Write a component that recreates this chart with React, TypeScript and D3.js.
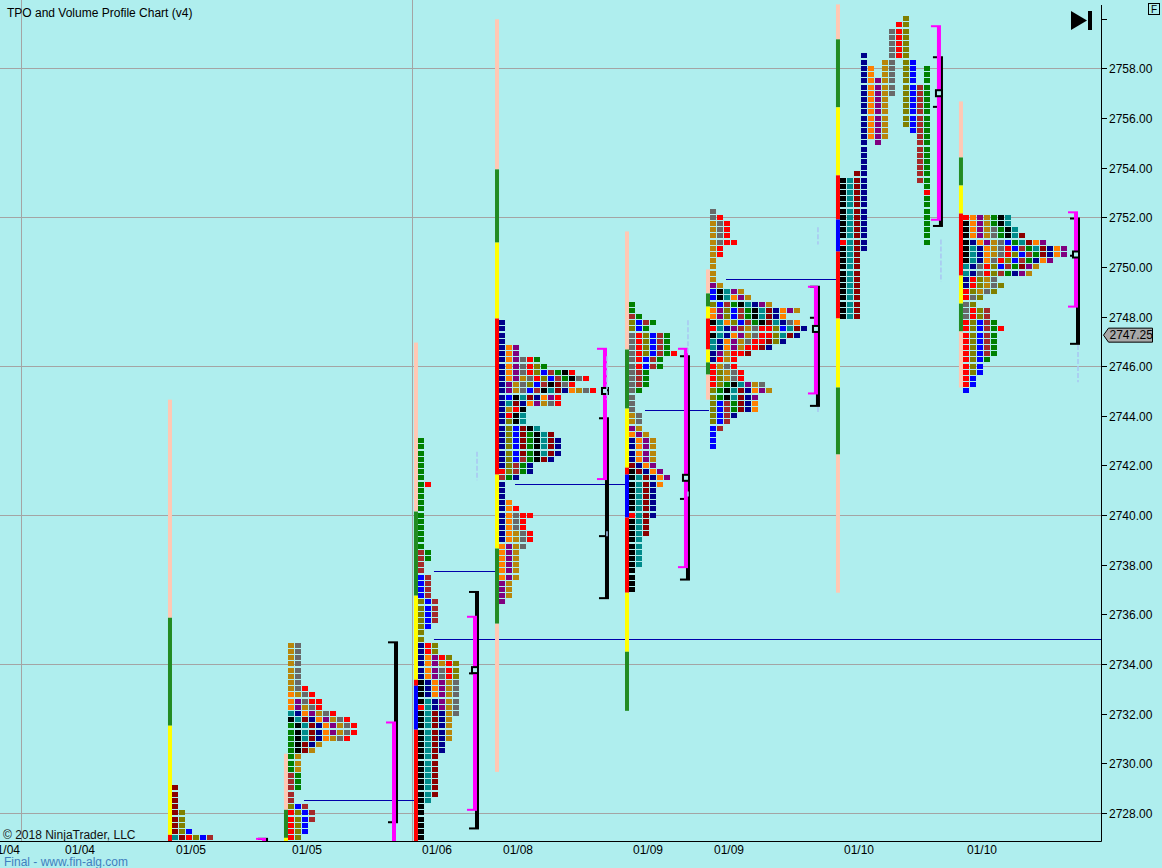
import { useEffect, useRef } from "react";
import * as d3 from "d3";

const BG = "#afeeee";
const GRID = "#a4a4a4";
const MAGENTA = "#ff00ff";
const NAKED_POC = "#0000aa";
const FAINT = "#a9c6f2";
const FONT = "'Liberation Sans', Arial, sans-serif";

// TPO letter colours (one per period)
const TPO_COLORS: Record<string, string> = {
  K: "#000000",
  T: "#008b8b",
  M: "#8b0000",
  N: "#00008b",
  O: "#ff8000",
  P: "#800080",
  G: "#b8860b",
  Y: "#696969",
  R: "#ff0000",
  L: "#808000",
  B: "#0000ff",
  W: "#a52a2a",
  E: "#008000",
};
// range-extension bar colours
const BAR_COLORS: Record<string, string> = {
  p: "#ffc8b4",
  g: "#228b22",
  y: "#ffff00",
  r: "#ff0000",
  b: "#0000ff",
};

const priceTicks = [2728, 2730, 2732, 2734, 2736, 2738, 2740, 2742, 2744, 2746, 2748, 2750, 2752, 2754, 2756, 2758, 2760];
const gridPrices = [2728, 2734, 2740, 2746, 2752, 2758];
const gridSlots = [3, 58.79];
const lastPrice = 2747.25;

const sessionLabels = ["01/04", "01/04", "01/05", "01/05", "01/06", "01/08", "01/09", "01/09", "01/10", "01/10"];
const sessionStarts = [-2, 8.71, 24.57, 41.14, 59.71, 71.29, 89.86, 101.43, 120, 137.57];
const sessionEnds = [0, 0, 38.29, 56.86, 68.43, 87, 98.57, 117.14, 134.71, 154.29];

// collapsed profiles: rows from the top price down, 0.25 per row
const rows0105a = ["M", "M", "M", "M", "ML", "ML", "ML", "MLB", "TMRLBW"];
const rows0105b = [
  "GY", "GY", "GY", "GY", "GY", "GY", "GY", "GYR", "OGYR", "OPYRR", "OPGYR", "TNOPGYR",
  "KTMNOPGYR", "EKTMNOPGYR", "EKTMNOPGYR", "EKTMNOGYR", "EKMNG", "EKMG", "EG", "EG", "EG",
  "WE", "WE", "WE", "W", "W", "LBW", "RLBW", "RLBW", "RLB", "RLB", "RL",
];
const rows0106 = [
  "E", "E", "E", "E", "E", "E", "E", "ER", "E", "E", "E", "E", "E", "E", "E", "E", "E", "E",
  "WE", "WE", "W", "W", "BW", "BW", "BW", "BW", "LBW", "LBW", "LBW", "LBW", "LB", "L", "L",
  "NRL", "NRL", "NOPRL", "NOPGRL", "NOPYRL", "NOPYRL", "KNOPGY", "KNOPGY", "KNOPGY", "KTNPGY",
  "RTNPGY", "KTMNGY", "KTMNG", "KTMNG", "KTMNG", "KTMNG", "KTMN", "KTMN", "KTM", "KTM", "KTM",
  "KTM", "KTM", "KTM", "KTM", "KT", "K", "K", "K", "K", "K", "K",
];
const rows0108 = [
  "N", "N", "N", "N", "NOP", "NOP", "NOPYRE", "NOPYRLE", "NOPYRLBWEKR", "NOPGYRLBWEKYR",
  "NPGYLBWKMYR", "NPGYBWKTMNOGYR", "NBKTMNOPR", "NTMNOPGYR", "NGRK", "NRKT", "NLKT", "NLBMKT",
  "NLBMEKTM", "NLBMEKTMN", "NLBMEKTMN", "NLBMEKTMN", "NLBWEKMN", "NLWEN", "RLWEN", "WEN",
  "N", "N", "N", "NO", "NOR", "NOYRR", "NOYR", "NOYR", "NOGYR", "NOGYR", "OPGY", "OPG", "OPG",
  "OPG", "OPG", "OPG", "PG", "PG", "PG", "P",
];
const rows0109a = [
  "E", "E", "WE", "LBWE", "LBE", "YRLBWE", "YRLBWE", "YRLBWE", "YRLBWER", "YRBWE", "YRBWE",
  "YWE", "YWE", "YWE", "YE", "Y", "Y", "Y", "GY", "GY", "PG", "OPG", "NOPG", "NOPG", "NOPG",
  "NOPG", "MNOP", "KMNOP", "KTMNOP", "KTMNO", "KTMN", "KTMN", "KTMN", "KTMN", "RTMN", "KTM",
  "KTM", "KTM", "KT", "KT", "KT", "KT", "KT", "K", "K", "K", "K",
];
const rows0109b = [
  "Y", "YR", "GYR", "GYR", "GYR", "GYRR", "GR", "GR", "G", "G", "G", "G", "PG", "BKTPG",
  "BKTOPG", "LBWEKTNPG", "OPLBWEKTMNOPG", "OPLBWEKTMNO", "KTOLBWEKMTNYO", "RTNPWGYRRLBTMN",
  "KTNOPGYRRLTMN", "TNOPGYRRMLN", "TNOPGRRMN", "NPGRRM", "NRGR", "RGYR", "RLGYR", "RLGYR",
  "RLEKTPGY", "LEKTMNOPG", "LEKTMNP", "LBWEMNO", "LBWEMNO", "LBWN", "LBW", "BW", "B", "B", "B",
];
const rows0110b = [
  "ROPGEKT", "KOPGEKT", "KOPGYEKT", "KOPGYEKTM", "KNOPGYBETMOP", "KTNOGYRBWETMNOP",
  "KTNOGYRLBWEMNOP", "KTNOYRLBWENOP", "TNYRLBWEMPG", "TNYRLWENPG", "NRLGY", "NRLGYL", "RLGYL",
  "RYL", "YL", "YRLW", "YRLW", "RLBWE", "RLBWER", "RLBWE", "RLBWE", "RLBWE", "RLBWE", "RLBE",
  "RLB", "RLB", "RB", "RB", "B",
];
const profileSessions = [2, 3, 4, 5, 6, 7, 9];
const profileTops = [2729.0, 2734.75, 2743.0, 2747.75, 2748.5, 2752.25, 2752.0];
const profileRows = [rows0105a, rows0105b, rows0106, rows0108, rows0109a, rows0109b, rows0110b];

// split (one column per period) profile of the first 01/10 session
const split0110Letters = ["K", "T", "M", "N", "O", "P", "G", "Y", "R", "L", "B", "W", "E"];
const split0110Highs = [2753.5, 2753.5, 2753.75, 2758.5, 2758.0, 2757.5, 2758.25, 2759.5, 2759.75, 2760.0, 2758.25, 2757.25, 2758.0];
const split0110Lows = [2748.0, 2748.0, 2748.0, 2750.75, 2755.25, 2755.0, 2755.25, 2757.0, 2758.5, 2755.75, 2755.5, 2753.5, 2751.0];
const split0110OpenClose = [[0, 2751.0], [12, 2753.0]];

// range bars: [high, low, colour]
const bar0105a = [[2744.65, 2735.86, "p"], [2735.86, 2731.51, "g"], [2731.51, 2727.11, "y"], [2727.11, 2726.5, "r"]];
const bar0105b = [[2730.38, 2728.12, "p"], [2728.12, 2726.99, "g"], [2726.99, 2726.5, "y"]];
const bar0106 = [[2746.95, 2740.14, "p"], [2740.14, 2736.75, "g"], [2736.75, 2733.36, "y"], [2733.36, 2733.12, "r"], [2733.12, 2731.35, "b"], [2731.35, 2726.5, "r"]];
const bar0108 = [[2759.98, 2753.93, "p"], [2753.93, 2750.98, "g"], [2750.98, 2747.92, "y"], [2747.92, 2741.63, "r"], [2741.63, 2738.65, "y"], [2738.65, 2735.62, "g"], [2735.62, 2729.65, "p"]];
const bar0109a = [[2751.43, 2746.67, "p"], [2746.67, 2744.29, "g"], [2744.29, 2741.91, "y"], [2741.91, 2741.63, "r"], [2741.63, 2739.9, "b"], [2739.9, 2736.87, "r"], [2736.87, 2734.49, "y"], [2734.49, 2732.11, "g"]];
const bar0109b = [[2749.9, 2748.93, "p"], [2748.93, 2748.4, "g"], [2748.4, 2747.92, "y"], [2747.92, 2746.67, "r"], [2746.67, 2746.15, "y"], [2746.15, 2745.66, "g"], [2745.66, 2744.65, "p"]];
const bar0110a = [[2760.58, 2759.17, "p"], [2759.17, 2756.43, "g"], [2756.43, 2753.69, "y"], [2753.69, 2751.91, "r"], [2751.91, 2750.62, "b"], [2750.62, 2747.92, "r"], [2747.92, 2745.14, "y"], [2745.14, 2742.44, "g"], [2742.44, 2736.87, "p"]];
const bar0110b = [[2756.67, 2754.41, "p"], [2754.41, 2753.28, "g"], [2753.28, 2752.15, "y"], [2752.15, 2749.65, "r"], [2749.65, 2748.52, "y"], [2748.52, 2747.4, "g"], [2747.4, 2745.14, "p"]];
const barSessions = [2, 3, 4, 5, 6, 7, 8, 9];
const barSegments = [bar0105a, bar0105b, bar0106, bar0108, bar0109a, bar0109b, bar0110a, bar0110b];

// value areas (magenta = TPO, black = volume) and POCs per session
const bracketSessions = [2, 3, 4, 5, 6, 7, 8, 9];
const tpoVaHigh = [2726.95, 2731.64, 2735.9, 2746.7, 2746.7, 2749.2, 2759.7, 2752.2];
const tpoVaLow = [2720, 2720, 2728.12, 2741.45, 2737.9, 2744.9, 2751.9, 2748.4];
const volVaHigh = [2726.95, 2734.87, 2736.9, 2743.9, 2746.4, 2749.2, 2758.45, 2751.95];
const volVaLow = [2720, 2727.62, 2727.37, 2736.65, 2737.4, 2744.4, 2751.65, 2746.9];
const volPoc = [null, null, 2733.62, 2739.15, 2740.65, 2747.95, 2756.45, 2750.45];
const tpoPoc = [null, null, 2733.75, 2745.0, 2741.5, 2747.5, 2757.0, 2750.5];

// naked POC lines
const nakedPocPrices = [2728.5, 2737.75, 2735.0, 2741.25, 2744.25, 2749.5];
const nakedPocFrom = [3, 4, 4, 5, 6, 7];
const nakedPocTo = [4, 5, -1, 6, 7, 8];

// faint dashed marks at the session ends
const faintSessions = [4, 5, 5, 6, 6, 7, 7, 8, 9];
const faintHigh = [2742.55, 2746.4, 2739.35, 2747.85, 2740.95, 2751.6, 2744.35, 2751.1, 2746.85];
const faintLow = [2741.4, 2744.65, 2739.1, 2746.45, 2740.7, 2750.9, 2744.1, 2749.4, 2745.35];

export default function App() {
  const ref = useRef<HTMLDivElement>(null);

  useEffect(() => {
    if (!ref.current) return;
    d3.select(ref.current).selectAll("*").remove();

    const W = 1162;
    const H = 868;
    const AX = 1101; // right price axis
    const AY = 841; // bottom time axis

    const svg = d3
      .select(ref.current)
      .append("svg")
      .attr("width", W)
      .attr("height", H)
      .style("display", "block");

    svg.append("rect").attr("width", W).attr("height", H).attr("fill", BG);

    const x = d3.scaleLinear().domain([0, 157.29]).range([0, AX]);
    const y = d3.scaleLinear().domain([2728, 2758]).range([812.8, 68.4]);

    svg
      .append("defs")
      .append("clipPath")
      .attr("id", "plot-clip")
      .append("rect")
      .attr("x", 0)
      .attr("y", 0)
      .attr("width", AX)
      .attr("height", AY);

    const g = svg.append("g").attr("clip-path", "url(#plot-clip)");

    // grid
    g.selectAll("line.hgrid")
      .data(gridPrices)
      .join("line")
      .attr("x1", 0)
      .attr("x2", AX)
      .attr("y1", (d) => Math.round(y(d)) + 0.5)
      .attr("y2", (d) => Math.round(y(d)) + 0.5)
      .attr("stroke", GRID);
    g.selectAll("line.vgrid")
      .data(gridSlots)
      .join("line")
      .attr("x1", (d) => Math.round(x(d)) + 0.5)
      .attr("x2", (d) => Math.round(x(d)) + 0.5)
      .attr("y1", 0)
      .attr("y2", AY)
      .attr("stroke", GRID);

    // naked POC lines
    nakedPocPrices.forEach((p, i) => {
      const x1 = x(sessionStarts[nakedPocFrom[i]]) + 16;
      const x2 = nakedPocTo[i] < 0 ? AX : x(sessionStarts[nakedPocTo[i]]) - 1;
      g.append("line")
        .attr("x1", x1)
        .attr("x2", x2)
        .attr("y1", Math.round(y(p)) + 0.5)
        .attr("y2", Math.round(y(p)) + 0.5)
        .attr("stroke", NAKED_POC);
    });

    // range bars
    barSessions.forEach((s, i) => {
      const bx = x(sessionStarts[s]) - 4;
      barSegments[i].forEach(([hi, lo, c]) => {
        g.append("rect")
          .attr("x", bx)
          .attr("y", y(hi as number))
          .attr("width", 4)
          .attr("height", y(lo as number) - y(hi as number))
          .attr("fill", BAR_COLORS[c as string]);
      });
    });

    const cell = (slot: number, price: number, code: string) => {
      g.append("rect")
        .attr("x", Math.round(x(slot)))
        .attr("y", Math.round(y(price) - 2.5))
        .attr("width", 6)
        .attr("height", 5)
        .attr("fill", TPO_COLORS[code]);
    };

    // collapsed TPO profiles
    profileSessions.forEach((s, i) => {
      const start = sessionStarts[s];
      profileRows[i].forEach((row, r) => {
        const price = profileTops[i] - r * 0.25;
        row.split("").forEach((code, c) => cell(start + c, price, code));
      });
    });

    // split profile
    split0110Letters.forEach((code, c) => {
      for (let p = split0110Highs[c]; p >= split0110Lows[c] - 0.001; p -= 0.25) {
        const mark = split0110OpenClose.find(([col, mp]) => col === c && Math.abs(mp - p) < 0.01);
        cell(sessionStarts[8] + c, p, mark ? "R" : code);
      }
    });

    // value-area brackets and POC squares
    bracketSessions.forEach((s, i) => {
      const E = x(sessionEnds[s]);
      const vh = y(volVaHigh[i]);
      const vl = y(volVaLow[i]);
      g.append("rect").attr("x", E - 4).attr("y", vh).attr("width", 4).attr("height", vl - vh).attr("fill", "#000");
      g.append("rect").attr("x", E - 10).attr("y", vh - 1).attr("width", 10).attr("height", 2).attr("fill", "#000");
      g.append("rect").attr("x", E - 10).attr("y", vl - 1).attr("width", 10).attr("height", 2).attr("fill", "#000");
      if (volPoc[i] !== null) {
        g.append("rect").attr("x", E - 10).attr("y", y(volPoc[i] as number) - 1).attr("width", 6).attr("height", 2).attr("fill", "#000");
      }
      const th = y(tpoVaHigh[i]);
      const tl = y(tpoVaLow[i]);
      g.append("rect").attr("x", E - 6).attr("y", th).attr("width", 4).attr("height", tl - th).attr("fill", MAGENTA);
      g.append("rect").attr("x", E - 12).attr("y", th - 1).attr("width", 10).attr("height", 2).attr("fill", MAGENTA);
      g.append("rect").attr("x", E - 12).attr("y", tl - 1).attr("width", 10).attr("height", 2).attr("fill", MAGENTA);
      if (tpoPoc[i] !== null) {
        g.append("rect")
          .attr("x", E - 7)
          .attr("y", y(tpoPoc[i] as number) - 3)
          .attr("width", 6)
          .attr("height", 6)
          .attr("fill", BG)
          .attr("stroke", "#000")
          .attr("stroke-width", 2);
      }
    });

    // faint dashed marks
    faintSessions.forEach((s, i) => {
      const fx = x(sessionEnds[s]) - 2;
      g.append("line")
        .attr("x1", fx)
        .attr("x2", fx)
        .attr("y1", y(faintHigh[i]))
        .attr("y2", y(faintLow[i]))
        .attr("stroke", FAINT)
        .attr("stroke-width", 1.5)
        .attr("stroke-dasharray", "5 2");
    });

    // axes
    svg.append("line").attr("x1", 0).attr("x2", AX + 0.5).attr("y1", AY + 0.5).attr("y2", AY + 0.5).attr("stroke", "#000");
    svg.append("line").attr("x1", AX + 0.5).attr("x2", AX + 0.5).attr("y1", 5).attr("y2", AY + 0.5).attr("stroke", "#000");

    const yAxis = svg.append("g");
    priceTicks.forEach((p) => {
      const ty = Math.round(y(p)) + 0.5;
      yAxis.append("line").attr("x1", AX).attr("x2", AX + 6).attr("y1", ty).attr("y2", ty).attr("stroke", "#000");
      // the top tick has no room for its label
      if (ty > 30) {
        yAxis
          .append("text")
          .attr("x", AX + 8)
          .attr("y", ty + 4.3)
          .attr("font-family", FONT)
          .attr("font-size", "12px")
          .attr("fill", "#000")
          .text(p.toFixed(2));
      }
    });

    // last price tag
    const ly = y(lastPrice);
    svg
      .append("path")
      .attr("d", `M${AX + 2.5},${ly} L${AX + 7.5},${ly - 7} H${AX + 51.5} V${ly + 7} H${AX + 7.5} Z`)
      .attr("fill", "#a8a8a8")
      .attr("stroke", "#000");
    svg
      .append("text")
      .attr("x", AX + 8.5)
      .attr("y", ly + 4.3)
      .attr("font-family", FONT)
      .attr("font-size", "12px")
      .attr("fill", "#000")
      .text(lastPrice.toFixed(2));

    // time labels
    svg
      .selectAll("text.date")
      .data(sessionLabels)
      .join("text")
      .attr("x", (_, i) => x(sessionStarts[i]) + 4)
      .attr("y", 854)
      .attr("font-family", FONT)
      .attr("font-size", "12px")
      .attr("fill", "#000")
      .text((d) => d);

    // chrome
    svg.append("text").attr("x", 7).attr("y", 16.5).attr("font-family", FONT).attr("font-size", "12px").attr("fill", "#000").text("TPO and Volume Profile Chart (v4)");
    svg.append("text").attr("x", 3).attr("y", 839).attr("font-family", FONT).attr("font-size", "12px").attr("fill", "#111").text("© 2018 NinjaTrader, LLC");
    svg.append("text").attr("x", 4).attr("y", 866).attr("font-family", FONT).attr("font-size", "12px").attr("fill", "#3f7fbf").text("Final - www.fin-alg.com");

    svg.append("path").attr("d", "M1071,11 L1087,20.5 L1071,30 Z").attr("fill", "#000");
    svg.append("rect").attr("x", 1088).attr("y", 11).attr("width", 4).attr("height", 19).attr("fill", "#000");

    svg.append("rect").attr("x", 1148.5).attr("y", 3.5).attr("width", 11).attr("height", 11).attr("fill", "none").attr("stroke", "#000");
    svg.append("text").attr("x", 1154).attr("y", 13).attr("text-anchor", "middle").attr("font-family", FONT).attr("font-size", "10px").attr("fill", "#000").text("F");
  }, []);

  return <div ref={ref} style={{ position: "absolute", left: 0, top: 0, width: 1162, height: 868 }} />;
}
